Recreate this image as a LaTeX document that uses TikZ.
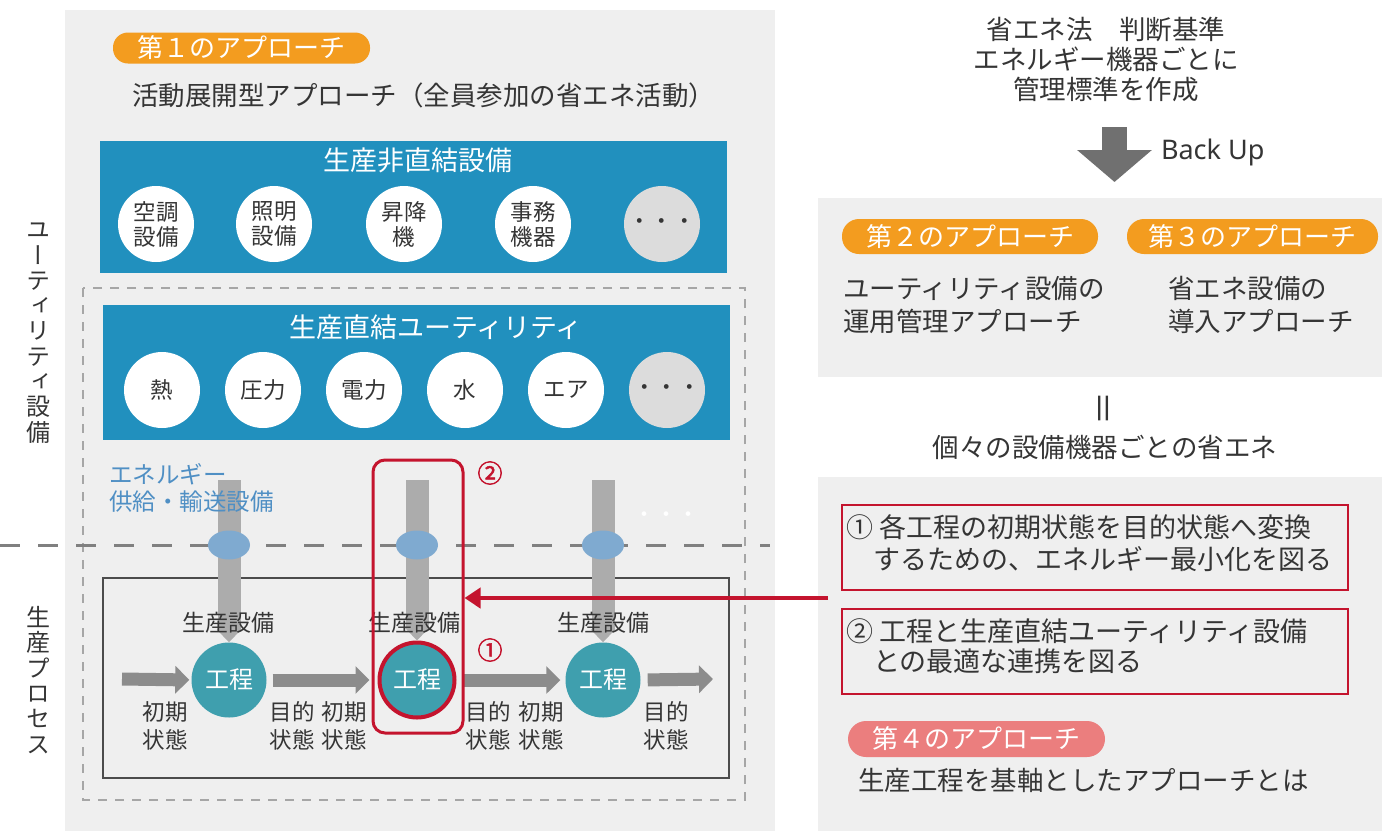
\documentclass[tikz,border=0pt]{standalone}
\usepackage{fontspec}
\setmainfont{Noto Sans CJK JP}
\newfontfamily\jpv[RawFeature=+vert]{Noto Sans CJK JP}
\newfontfamily\jpheavy[FakeBold=2]{Noto Sans CJK JP}
\newfontfamily\latinfont{Noto Sans}
\usetikzlibrary{arrows.meta,shapes.geometric}
\definecolor{panel}{HTML}{EFEFEF}
\definecolor{txt}{HTML}{353535}
\definecolor{boxblue}{HTML}{2190BE}
\definecolor{pillorange}{HTML}{F39C1F}
\definecolor{pillpink}{HTML}{EB7E7E}
\definecolor{proc}{HTML}{3F9FAE}
\definecolor{hlred}{HTML}{C4142E}
\definecolor{ebar}{HTML}{ACACAC}
\definecolor{parrow}{HTML}{8C8C8C}
\definecolor{bigarrow}{HTML}{707070}
\definecolor{ellc}{HTML}{7FAAD0}
\definecolor{etext}{HTML}{4F8FC4}
\definecolor{dotgray}{HTML}{DCDCDC}
\definecolor{dashc}{HTML}{808080}
\definecolor{rectdash}{HTML}{A6A6A6}
\newcommand{\fsz}[2]{\fontsize{#1}{#2}\selectfont}
\begin{document}
\begin{tikzpicture}[x=1pt,y=-1pt,
  tnode/.style={inner sep=0pt,outer sep=0pt,text=txt},
  bodytxt/.style={tnode,font=\fsz{26.5}{30}},
  pillbox/.style={inner sep=0pt,fill=pillorange,text=white,font=\fsz{26}{30},minimum height=31,rounded corners=15},
  bluebox/.style={inner sep=0pt,fill=boxblue},
  wcirc/.style={circle,inner sep=0pt,fill=white,minimum size=76,align=center,text=txt,font=\fsz{22.5}{25}},
  gcirc/.style={wcirc,fill=dotgray},
  proccirc/.style={circle,inner sep=0pt,fill=proc,minimum size=75,text=white,font=\fsz{24}{28}},
  ebarline/.style={draw=ebar,line width=23pt,-{Triangle[length=13pt 0 0,width=24pt 0 0]}},
  ellnode/.style={ellipse,fill=ellc,minimum width=42,minimum height=29,inner sep=0pt},
  plabel/.style={tnode,font=\fsz{23}{28}},
  statelab/.style={tnode,align=center,font=\fsz{22.5}{28}},
  procarrow/.style={draw=parrow,line width=13pt,-{Triangle[length=14pt 0 0,width=27pt 0 0]}},
  redlabel/.style={tnode,text=hlred,font=\jpheavy\fsz{25}{28}},
  vlabel/.style={tnode,align=center,font=\jpv\fsz{24}{25.3}}
]
\useasboundingbox (0,0) rectangle (1382,831);
\fill[white] (0,0) rectangle (1382,831);
% panels
\fill[panel] (65,10) rectangle (775,831);
\fill[panel] (818,198) rectangle (1382,377);
\fill[panel] (818,477) rectangle (1382,831);

% approach 1
\node[pillbox,minimum width=257] (a1) at (241.5,48) {第１のアプローチ};
\node[bodytxt,anchor=west] (a1t) at (132,95) {活動展開型アプローチ（全員参加の省エネ活動）};

% box: non-direct equipment
\node[bluebox,minimum width=627,minimum height=132] (nb) at (413.5,207) {};
\node[tnode,text=white,font=\fsz{27}{30}] (nbt) at (418,160) {生産非直結設備};
\node[wcirc] (c1) at (156,224) {空調\\設備};
\node[wcirc] (c2) at (274,224) {照明\\設備};
\node[wcirc] (c3) at (404,224) {昇降\\機};
\node[wcirc] (c4) at (533,224) {事務\\機器};
\node[gcirc] (c5) at (662,224) {・・・};

% dashed utility area
\draw[rectdash,line width=2pt,dash pattern=on 9pt off 8pt] (83,288) rectangle (745,800);

% box: direct utility
\node[bluebox,minimum width=627,minimum height=135] (db) at (416.5,372.5) {};
\node[tnode,text=white,font=\fsz{27}{30}] (dbt) at (436,327) {生産直結ユーティリティ};
\node[wcirc] (u1) at (162,390) {熱};
\node[wcirc] (u2) at (263,390) {圧力};
\node[wcirc] (u3) at (364,390) {電力};
\node[wcirc] (u4) at (465,390) {水};
\node[wcirc] (u5) at (566,390) {エア};
\node[gcirc] (u6) at (667,390) {・・・};

% divider
\draw[dashc,line width=3pt,dash pattern=on 20pt off 18pt] (0,545) -- (770,545);

% process frame
\draw[draw=black!70,line width=1.5pt] (103,578) rectangle (729,778);

% process circles
\node[proccirc] (p1) at (229,680) {工程};
\node[proccirc,draw=hlred,line width=4pt] (p2) at (417,680) {工程};
\node[proccirc] (p3) at (603,680) {工程};

% energy bars
\coordinate (e1) at (229,480);
\coordinate (e2) at (417,480);
\coordinate (e3) at (603,480);
\draw[ebarline] (e1) -- (p1.north);
\draw[ebarline] (e2) -- (p2.north);
\draw[ebarline] (e3) -- (p3.north);
\node[ellnode] (q1) at (229,545) {};
\node[ellnode] (q2) at (417,545) {};
\node[ellnode] (q3) at (603,545) {};
\node[plabel] (s1) at (228,623) {生産設備};
\node[plabel] (s2) at (414,623) {生産設備};
\node[plabel] (s3) at (603,623) {生産設備};

% process arrows
\coordinate (in0) at (122,679);
\coordinate (out0) at (713,679);
\draw[procarrow,shorten >=2pt] (in0) -- (p1.west);
\draw[procarrow,shorten <=6pt,shorten >=8pt] (p1.east) -- (p2.west);
\draw[procarrow,shorten <=7pt,shorten >=5pt] (p2.east) -- (p3.west);
\draw[procarrow,shorten <=7pt] (p3.east) -- (out0);

% state labels
\node[statelab] (l1) at (165,726) {初期\\状態};
\node[statelab] (l2) at (292,726) {目的\\状態};
\node[statelab] (l3) at (344,726) {初期\\状態};
\node[statelab] (l4) at (488,726) {目的\\状態};
\node[statelab] (l5) at (541,726) {初期\\状態};
\node[statelab] (l6) at (666,726) {目的\\状態};

% highlight
\node[draw=hlred,line width=3pt,rounded corners=12,minimum width=90,minimum height=273,inner sep=0pt] (hl) at (418,596.5) {};
\node[redlabel] (n2) at (490,473) {②};
\node[redlabel] (n1) at (490,650) {①};

% energy supply text
\node[tnode,text=etext,align=left,anchor=west,font=\fsz{23.5}{27}] (et) at (109,488) {エネルギー\\供給・輸送設備};
\node[tnode,text=white,font=\fsz{22}{26}] (wd) at (666,517) {・・・};

% vertical labels
\node[vlabel] (vl1) at (39,333) {ユ\\ー\\テ\\ィ\\リ\\テ\\ィ\\設\\備};
\node[vlabel] (vl2) at (38,680) {生\\産\\プ\\ロ\\セ\\ス};

% right side top
\node[bodytxt,align=center] (law) at (1106,59) {省エネ法　判断基準\\エネルギー機器ごとに\\管理標準を作成};
\coordinate (ba1) at (1114.5,127);
\coordinate (ba2) at (1114.5,182);
\draw[draw=bigarrow,line width=25pt,-{Triangle[length=32pt 0 0,width=73pt 0 0]}] (ba1) -- (ba2);
\node[tnode,anchor=west,font=\latinfont\fsz{27}{30}] (bu) at (1161,152) {Back Up};

% approaches 2 and 3
\node[pillbox,minimum width=256,minimum height=35,rounded corners=17] (a2) at (970,236.5) {第２のアプローチ};
\node[pillbox,minimum width=251,minimum height=35,rounded corners=17] (a3) at (1252.5,236.5) {第３のアプローチ};
\node[tnode,anchor=west,align=left,font=\fsz{26.5}{33}] (a2t) at (843,305) {ユーティリティ設備の\\運用管理アプローチ};
\node[tnode,anchor=west,align=left,font=\fsz{26.5}{33}] (a3t) at (1168,305) {省エネ設備の\\導入アプローチ};

% equals
\node[tnode,font=\fsz{34}{34}] (eq) at (1107,408) {\rotatebox{90}{＝}};
\node[bodytxt] (ind) at (1105,447) {個々の設備機器ごとの省エネ};

% red boxes
\node[draw=hlred,line width=2.5pt,minimum width=506,minimum height=85,inner sep=0pt] (r1) at (1095,547.5) {};
\node[tnode,anchor=west,align=left,font=\fsz{27}{32}] (r1t) at (846,543) {① 各工程の初期状態を目的状態へ変換\\　するための、エネルギー最小化を図る};
\node[draw=hlred,line width=2.5pt,minimum width=506,minimum height=85,inner sep=0pt] (r2) at (1095,651.5) {};
\node[tnode,anchor=west,align=left,font=\fsz{27}{30}] (r2t) at (846,646) {② 工程と生産直結ユーティリティ設備\\　との最適な連携を図る};

% red arrow
\coordinate (ra) at (828,598);
\draw[draw=hlred,line width=4pt,-{Triangle[length=16pt 0 0,width=20pt 0 0]}] (ra) -- (ra -| hl.east);

% approach 4
\node[pillbox,fill=pillpink,minimum width=257,minimum height=36,rounded corners=18] (a4) at (976.5,739) {第４のアプローチ};
\node[bodytxt,anchor=west] (a4t) at (858,780) {生産工程を基軸としたアプローチとは};
\end{tikzpicture}
\end{document}
